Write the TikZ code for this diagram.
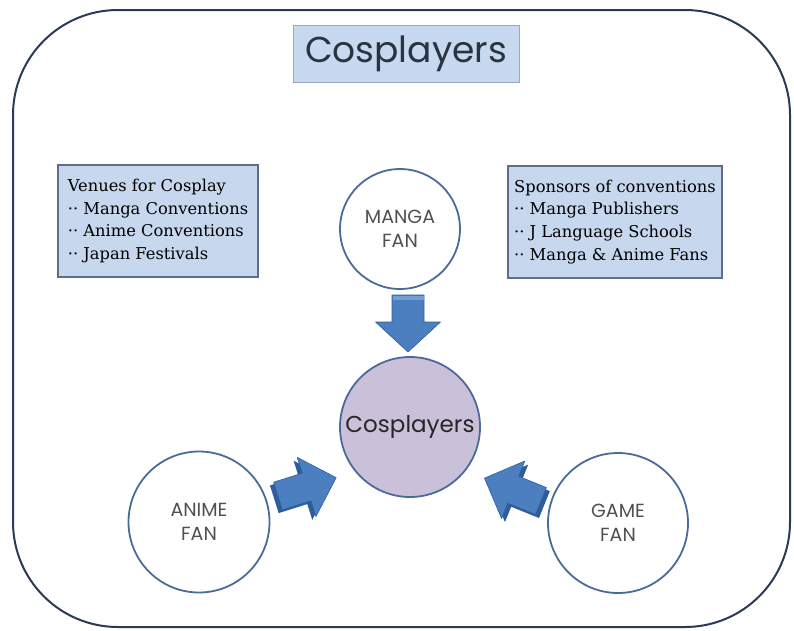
\documentclass[tikz,border=0pt]{standalone}
\usepackage{fontspec}
\setmainfont{DejaVu Serif}
\setsansfont{Poppins}
\definecolor{framecol}{HTML}{2B3A55}
\definecolor{titlefill}{HTML}{C6D9F1}
\definecolor{titleedge}{HTML}{9AA9BF}
\definecolor{boxfill}{HTML}{C6D7EE}
\definecolor{boxedge}{HTML}{5D6F88}
\definecolor{circedge}{HTML}{4A6B9A}
\definecolor{hubfill}{HTML}{CBC0DA}
\definecolor{arrowmain}{HTML}{4B7FC0}
\definecolor{arrowdark}{HTML}{2E5D9A}
\definecolor{arrowlight}{HTML}{7EA6D8}
\definecolor{fantext}{HTML}{505050}
\definecolor{titletext}{HTML}{2A3340}
\begin{document}
\begin{tikzpicture}[x=1pt,y=-1pt,
  frame/.style={draw=framecol, line width=2pt, rounded corners=105pt},
  titlebox/.style={draw=titleedge, fill=titlefill, line width=1pt,
    minimum width=226pt, minimum height=57pt, inner sep=0pt,
    font=\sffamily\fontsize{36}{40}\selectfont, text=titletext},
  infobox/.style={draw=boxedge, fill=boxfill, line width=2.6pt,
    minimum height=112pt, inner sep=0pt, align=left, text=black,
    font=\fontsize{16.3}{22.8}\selectfont},
  fan/.style={circle, draw=circedge, line width=1.8pt, fill=white,
    inner sep=0pt, align=center, text=fantext,
    font=\sffamily\fontsize{19}{23.5}\selectfont},
  hub/.style={circle, draw=circedge, line width=1.8pt, fill=hubfill,
    minimum size=140pt, inner sep=0pt, text=black!85,
    font=\sffamily\fontsize{23}{26}\selectfont},
  % block arrow: back at origin, pointing along local x;
  % extside gives the side on which the darker extrusion face shows
  blockarrow/.pic={
    \def\arrowpath{(0,-14.5) -- (30,-14.5) -- (30,-31) -- (61,0) -- (30,31) -- (30,14.5) -- (0,14.5) -- cycle}
    \fill[arrowdark] [shift={(-4.5,2*\pgfkeysvalueof{/tikz/extside})}] \arrowpath;
    \filldraw[fill=arrowmain, draw=arrowdark, line width=0.6pt, line join=round] \arrowpath;
  },
  extside/.initial=1
]
\useasboundingbox (0,0) rectangle (794,630);

% outer frame
\draw[frame] (13,10) rectangle (790,627);

% title
\node[titlebox] (title) at (406,53.5) {Cosplayers};

% side panels
\node[infobox, minimum width=200pt] (venues) at (158,221)
  {Venues for Cosplay\\·· Manga Conventions\\·· Anime Conventions\\·· Japan Festivals};
\node[infobox, minimum width=214pt] (sponsors) at (615,222)
  {Sponsors of conventions\\·· Manga Publishers\\·· J Language Schools\\·· Manga \& Anime Fans};

% circles
\node[fan, minimum size=120pt] (manga) at (400,229) {MANGA\\FAN};
\node[hub] (hub) at (410,427) {Cosplayers};
\node[fan, minimum size=141pt] (anime) at (199,522) {ANIME\\FAN};
\node[fan, minimum size=140pt] (game) at (618,523) {GAME\\FAN};

% block arrows towards the hub
\begin{scope}[shift={(408,295)}, rotate=-90]
  \filldraw[fill=arrowmain, draw=arrowdark, line width=0.6pt, line join=round]
    (0,-16) -- (27,-16) -- (27,-32.5) -- (57,0) -- (27,32.5) -- (27,16) -- (0,16) -- cycle;
  \fill[arrowlight!80!arrowmain] (0.5,-15.5) rectangle (5,15.5);
\end{scope}
\pic[extside=1, shift={(278,496)}, rotate=17.5] (animearrow) {blockarrow};
\pic[extside=-1, shift={(541,501)}, rotate=158] (gamearrow) {blockarrow};
\end{tikzpicture}
\end{document}
